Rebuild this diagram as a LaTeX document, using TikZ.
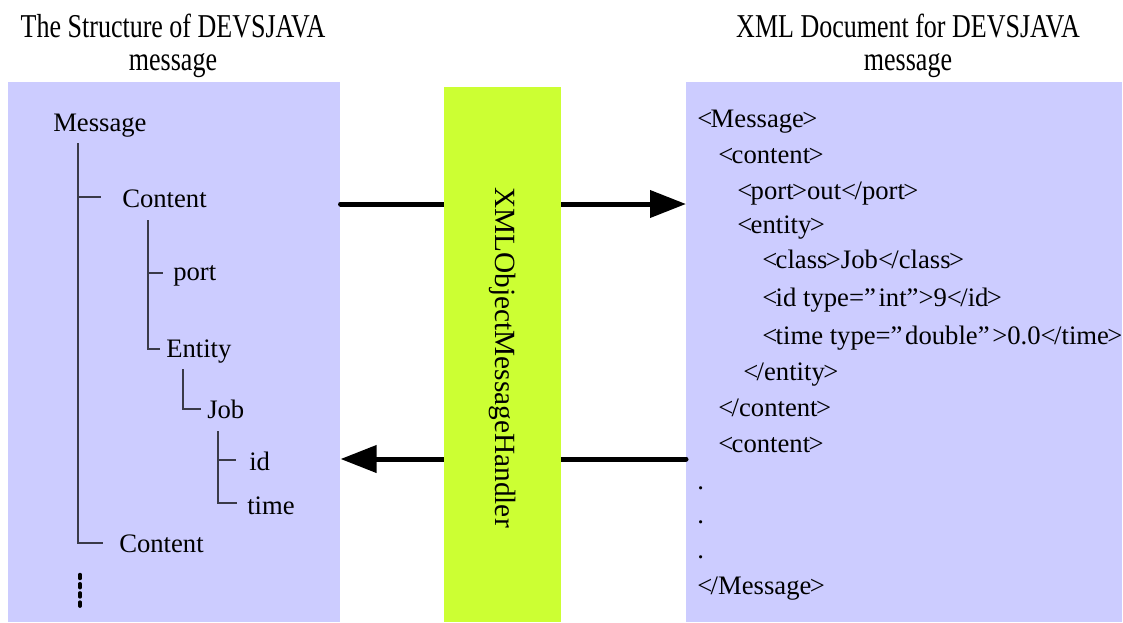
\documentclass[tikz,border=0pt]{standalone}
\usepackage{fontspec}
\setmainfont{Liberation Serif}
\newfontfamily\titlefont[FakeStretch=0.78]{Liberation Serif}
\usetikzlibrary{arrows.meta}
\definecolor{panelblue}{HTML}{CCCCFF}
\definecolor{handlergreen}{HTML}{CCFF33}
\definecolor{treegray}{HTML}{3A3A48}
\pgfdeclarelayer{front}
\pgfsetlayers{main,front}
% tightly set tag brackets
\newcommand\otag{<\kern-1.2pt}
\newcommand\ctag{\kern-1.2pt>}

\begin{document}
\begin{tikzpicture}[x=0.75pt,y=-0.75pt,
  txt/.style={anchor=base west, inner sep=0pt, font=\fontsize{20}{24}\selectfont},
  heading/.style={anchor=base, inner sep=0pt, font=\titlefont\fontsize{25}{30}\selectfont},
  panel/.style={fill=panelblue, draw=none, inner sep=0pt, anchor=north west, minimum height=405pt},
  handler/.style={fill=handlergreen, draw=none, inner sep=0pt, anchor=north west,
                  minimum width=87.75pt, minimum height=401.25pt},
  treeline/.style={draw=treegray, line width=1.1pt},
  flow/.style={line width=3.75pt, line cap=round},
  tip/.style={-{Triangle[length=27pt,width=20pt]}}]
\useasboundingbox (0,0) rectangle (1123,622);

% headings
\node[heading] (hl1) at (173,37) {The Structure of DEVSJAVA};
\node[heading] (hl2) at (173,70) {message};
\node[heading] (hr1) at (908,37) {XML Document for DEVSJAVA};
\node[heading] (hr2) at (908,70) {message};

% panels
\node[panel, minimum width=249pt] (lp) at (8,82) {};
\node[panel, minimum width=327pt] (rp) at (686,82) {};

% handler bar, kept in front of the flow lines
\begin{pgfonlayer}{front}
  \node[handler] (gb) at (444,87) {};
  \node[rotate=-90, anchor=base west, inner sep=0pt,
        font=\fontsize{22}{26}\selectfont] (lbl) at (495,187) {XMLObjectMessageHandler};
\end{pgfonlayer}

% message structure tree
\node[txt] (msg) at (53,131) {Message};
\node[txt] (con1) at (122,207) {Content};
\node[txt] (port) at (173,280) {port};
\node[txt] (ent) at (166,357) {Entity};
\node[txt] (job) at (207,418) {Job};
\node[txt] (id) at (249,470) {id};
\node[txt] (time) at (247,514) {time};
\node[txt] (con2) at (119,552) {Content};

\coordinate (t1) at (78,143);  \coordinate (t1e) at (78,543);
\coordinate (b1) at (101,197); \coordinate (b1e) at (103,543);
\coordinate (t2) at (148,220); \coordinate (t2e) at (160,349);
\coordinate (b2) at (163,273);
\coordinate (t3) at (183,369); \coordinate (t3e) at (201,409);
\coordinate (t4) at (218,431); \coordinate (t4e) at (237,503);
\coordinate (b4) at (236,460);

\draw[treeline] (t1) -- (t1e) -- (b1e);
\draw[treeline] (t1 |- b1) -- (b1);
\draw[treeline] (t2) |- (t2e);
\draw[treeline] (t2 |- b2) -- (b2);
\draw[treeline] (t3) |- (t3e);
\draw[treeline] (t4) |- (t4e);
\draw[treeline] (t4 |- b4) -- (b4);

% continuation marks
\coordinate (more) at (80,574.5);
\coordinate (moree) at (80,608);
\draw[line width=2.6pt, line cap=round, dash pattern=on 3pt off 3.9pt] (more) -- (moree);

% XML document
\node[txt] (x1) at (697,127) {\otag Message\ctag};
\node[txt] (x2) at (718,163) {\otag content\ctag};
\node[txt] (x3) at (737,199) {\otag port\ctag out\otag/port\ctag};
\node[txt] (x4) at (737,233) {\otag entity\ctag};
\node[txt] (x5) at (762,268) {\otag class\ctag Job\otag/class\ctag};
\node[txt] (x6) at (762,306) {\otag id type=”\kern2pt int”>9\otag/id\ctag};
\node[txt] (x7) at (762,344) {\otag time type=”\kern2pt double”\kern2pt>0.0\otag/time\ctag};
\node[txt] (x8) at (743,380) {\otag/entity\ctag};
\node[txt] (x9) at (718,416) {\otag/content\ctag};
\node[txt] (x10) at (718,452) {\otag content\ctag};
\node[txt] (d1) at (697,489) {.};
\node[txt] (d2) at (697,523) {.};
\node[txt] (d3) at (697,558) {.};
\node[txt] (x11) at (697,594) {\otag/Message\ctag};

% flows through the handler
\coordinate (ya) at (0,204);
\coordinate (yb) at (0,459);
\draw[flow] (lp.east |- ya) -- (gb.west |- ya);
\draw[flow, tip] (gb.east |- ya) -- (rp.west |- ya);
\draw[flow] (rp.west |- yb) -- (gb.east |- yb);
\draw[flow, tip] (gb.west |- yb) -- (lp.east |- yb);
\end{tikzpicture}
\end{document}
